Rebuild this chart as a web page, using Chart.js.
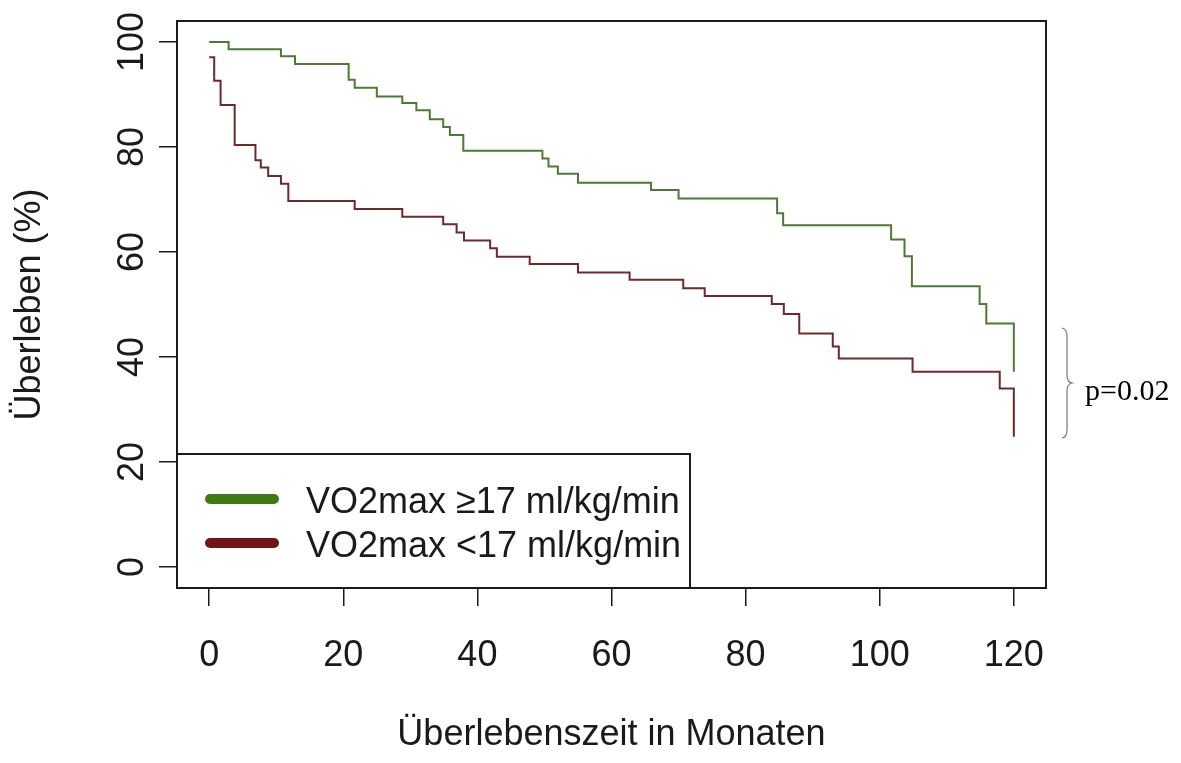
<!DOCTYPE html>
<html>
<head>
<meta charset="utf-8">
<script src="https://cdn.jsdelivr.net/npm/chart.js@4.4.1/dist/chart.umd.min.js"></script>
<style>
  html, body { margin: 0; padding: 0; background: #fff; }
  canvas { display: block; }
</style>
</head>
<body>
<canvas id="km" width="1181" height="763"></canvas>
<script>
// ---- data ----
const xTicks = [0, 20, 40, 60, 80, 100, 120];
const yTicks = [0, 20, 40, 60, 80, 100];
const seriesLabels = ['VO2max \u226517 ml/kg/min', 'VO2max <17 ml/kg/min'];

// VO2max >= 17
const hiTime = [0, 2.9, 10.7, 12.8, 20.8, 21.7, 25, 28.8, 30.9, 32.9, 34.9, 35.9, 37.9,
  49.7, 50.6, 52, 55, 65.9, 70, 84.7, 85.6, 101.7, 103.7, 104.8, 114.9, 115.9, 120];
const hiSurv = [100, 98.6, 97.3, 95.8, 92.8, 91.3, 89.6, 88.4, 87, 85.3, 83.8, 82.3, 79.3,
  77.8, 76.3, 74.9, 73.2, 71.8, 70.2, 67.4, 65.1, 62.4, 59.2, 53.5, 50.1, 46.4, 37.2];

// VO2max < 17
const loTime = [0, 0.75, 1.7, 3.8, 6.9, 7.7, 8.8, 10.7, 11.8, 21.7, 28.8, 34.9, 36.9, 38,
  41.9, 42.9, 47.8, 55, 62.7, 70.7, 73.9, 83.9, 85.7, 88, 93, 93.9, 104.9, 117.9, 120];
const loSurv = [97.1, 92.6, 88, 80.4, 77.5, 76.1, 74.5, 73, 69.7, 68.2, 66.7, 65.3, 63.7, 62.2,
  60.7, 59.1, 57.7, 56.1, 54.7, 53.1, 51.6, 50.1, 48.2, 44.5, 42, 39.7, 37.2, 34, 24.8];

const pText = 'p=0.02';
const xTitle = '\u00dcberlebenszeit in Monaten';
const yTitle = '\u00dcberleben (%)';

const SANS = '"Liberation Sans", Arial, Helvetica, sans-serif';
const SERIF = '"Liberation Serif", "Times New Roman", serif';
const INK = '#1a1a1a';
const lineCols = ['#4d7a35', '#6e2a2a'];
const keyCols = ['#3f7a12', '#6e1515'];

const toPts = (t, s) => t.map((v, i) => ({ x: v, y: s[i] }));

// box, rotated y labels, titles, legend, p-value bracket
const rDecor = {
  id: 'rDecor',
  afterDraw(chart) {
    const { ctx, chartArea: a, scales } = chart;
    ctx.save();

    ctx.strokeStyle = INK;
    ctx.lineWidth = 2;
    ctx.strokeRect(a.left, a.top, a.right - a.left, a.bottom - a.top);

    ctx.fillStyle = INK;
    ctx.font = '36px ' + SANS;
    ctx.textAlign = 'center';
    ctx.textBaseline = 'middle';
    yTicks.forEach(v => {
      ctx.save();
      ctx.translate(133, scales.y.getPixelForValue(v));
      ctx.rotate(-Math.PI / 2);
      ctx.fillText(String(v), 0, 0);
      ctx.restore();
    });

    ctx.fillText(xTitle, (a.left + a.right) / 2, 735);
    ctx.save();
    ctx.translate(30, (a.top + a.bottom) / 2);
    ctx.rotate(-Math.PI / 2);
    ctx.fillText(yTitle, 0, 0);
    ctx.restore();

    // legend
    const lx = a.left, ly = 454, lw = 513, lh = a.bottom - 454;
    ctx.fillStyle = '#fff';
    ctx.fillRect(lx, ly, lw, lh);
    ctx.strokeStyle = INK;
    ctx.lineWidth = 2;
    ctx.strokeRect(lx, ly, lw, lh);
    const rows = [499, 543];
    ctx.lineCap = 'round';
    ctx.textAlign = 'left';
    ctx.textBaseline = 'alphabetic';
    seriesLabels.forEach((lab, i) => {
      ctx.strokeStyle = keyCols[i];
      ctx.lineWidth = 10;
      ctx.beginPath();
      ctx.moveTo(210, rows[i]);
      ctx.lineTo(274, rows[i]);
      ctx.stroke();
      ctx.fillStyle = INK;
      ctx.fillText(lab, 306, rows[i] + 14);
    });

    // bracket + p value
    ctx.strokeStyle = '#777';
    ctx.lineWidth = 1.2;
    ctx.lineCap = 'butt';
    ctx.beginPath();
    ctx.moveTo(1062, 328);
    ctx.quadraticCurveTo(1067, 329, 1067, 336);
    ctx.lineTo(1067, 375);
    ctx.quadraticCurveTo(1067, 382, 1072, 383);
    ctx.quadraticCurveTo(1067, 384, 1067, 391);
    ctx.lineTo(1067, 430);
    ctx.quadraticCurveTo(1067, 437, 1062, 438);
    ctx.stroke();

    ctx.fillStyle = '#000';
    ctx.font = '30px ' + SERIF;
    ctx.fillText(pText, 1085, 400);

    ctx.restore();
  }
};

new Chart(document.getElementById('km'), {
  type: 'line',
  data: {
    datasets: [
      { label: seriesLabels[0], data: toPts(hiTime, hiSurv), borderColor: lineCols[0] },
      { label: seriesLabels[1], data: toPts(loTime, loSurv), borderColor: lineCols[1] }
    ]
  },
  options: {
    responsive: false,
    devicePixelRatio: 1,
    animation: false,
    events: [],
    layout: { padding: { top: 21, right: 135, left: 0, bottom: 0 } },
    elements: {
      line: { borderWidth: 2, stepped: 'before', tension: 0 },
      point: { radius: 0 }
    },
    plugins: { legend: { display: false }, tooltip: { enabled: false } },
    scales: {
      x: {
        type: 'linear',
        min: -4.8,
        max: 124.8,
        afterBuildTicks: s => { s.ticks = xTicks.map(v => ({ value: v })); },
        afterFit: s => { s.height = 175; },
        ticks: { color: INK, font: { family: SANS, size: 36 }, padding: 28, maxRotation: 0 },
        grid: { drawOnChartArea: false, drawTicks: true, tickLength: 18, color: INK, lineWidth: 1.5 },
        border: { display: true, color: INK, width: 2 }
      },
      y: {
        type: 'linear',
        min: -4,
        max: 104,
        afterBuildTicks: s => { s.ticks = yTicks.map(v => ({ value: v })); },
        afterFit: s => { s.width = 177; },
        ticks: { display: false },
        grid: { drawOnChartArea: false, drawTicks: true, tickLength: 18, color: INK, lineWidth: 1.5 },
        border: { display: true, color: INK, width: 2 }
      }
    }
  },
  plugins: [rDecor]
});
</script>
</body>
</html>
